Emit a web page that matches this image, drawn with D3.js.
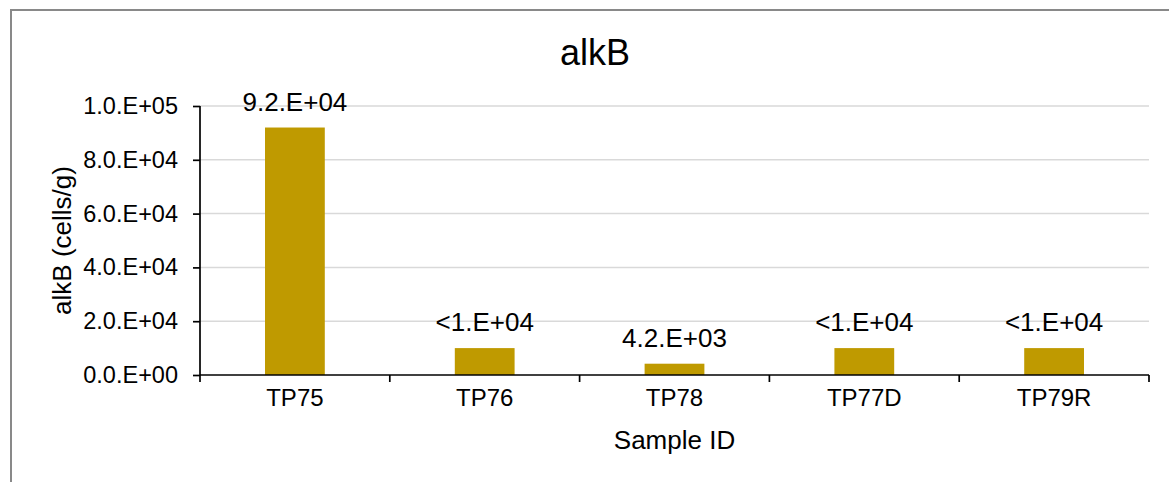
<!DOCTYPE html>
<html>
<head>
<meta charset="utf-8">
<script src="https://cdn.jsdelivr.net/npm/d3@7"></script>
<style>
  html, body { margin: 0; padding: 0; background: #fff; }
  svg { display: block; font-family: "Liberation Sans", Arial, sans-serif; }
</style>
</head>
<body>
<svg id="chart" width="1169" height="482"></svg>
<script>
// Sample IDs and alkB abundance (cells/g)
const samples = ["TP75", "TP76", "TP78", "TP77D", "TP79R"];
const values = [92000, 10000, 4200, 10000, 10000];
const valueLabels = ["9.2.E+04", "<1.E+04", "4.2.E+03", "<1.E+04", "<1.E+04"];
const yTicks = [0, 20000, 40000, 60000, 80000, 100000];
const yTickLabels = ["0.0.E+00", "2.0.E+04", "4.0.E+04", "6.0.E+04", "8.0.E+04", "1.0.E+05"];

const svg = d3.select("#chart");
const W = 1169, H = 482;
const plot = { left: 200, right: 1149, top: 106, bottom: 375 };

// outer frame
svg.append("rect")
  .attr("x", 11).attr("y", 10)
  .attr("width", W).attr("height", H)
  .attr("fill", "#fff")
  .attr("stroke", "#898989")
  .attr("stroke-width", 2);

const x = d3.scaleBand().domain(samples).range([plot.left, plot.right]).padding(0);
const y = d3.scaleLinear().domain([0, 100000]).range([plot.bottom, plot.top]);

// horizontal gridlines
svg.append("g")
  .selectAll("line")
  .data(yTicks.filter(d => d > 0))
  .join("line")
  .attr("x1", plot.left).attr("x2", plot.right)
  .attr("y1", d => y(d)).attr("y2", d => y(d))
  .attr("stroke", "#d9d9d9")
  .attr("stroke-width", 1.5);

// bars
const barW = x.bandwidth() * 0.315;
svg.append("g")
  .selectAll("rect")
  .data(samples)
  .join("rect")
  .attr("x", (d) => x(d) + (x.bandwidth() - barW) / 2)
  .attr("width", barW)
  .attr("y", (d, i) => y(values[i]))
  .attr("height", (d, i) => y(0) - y(values[i]))
  .attr("fill", "#BF9A00");

// value labels
svg.append("g")
  .selectAll("text")
  .data(samples)
  .join("text")
  .attr("x", d => x(d) + x.bandwidth() / 2)
  .attr("y", (d, i) => y(values[i]) - 17)
  .attr("text-anchor", "middle")
  .attr("font-size", 26)
  .attr("fill", "#000")
  .text((d, i) => valueLabels[i]);

// y axis
const yAxis = svg.append("g")
  .attr("transform", `translate(${plot.left},0)`)
  .call(d3.axisLeft(y)
    .tickValues(yTicks)
    .tickFormat((d, i) => yTickLabels[i])
    .tickSize(7)
    .tickSizeOuter(0)
    .tickPadding(15));
yAxis.select(".domain").attr("stroke", "#000").attr("stroke-width", 1.7)
  .attr("d", `M0,${plot.top}V${plot.bottom}`);
yAxis.selectAll(".tick line").attr("stroke", "#000").attr("stroke-width", 1.7);
yAxis.selectAll(".tick text").attr("font-size", 23.5).attr("fill", "#000")
  .attr("font-family", "'Liberation Sans', Arial, sans-serif");

// x axis: category labels
const xAxis = svg.append("g")
  .attr("transform", `translate(0,${plot.bottom})`)
  .call(d3.axisBottom(x).tickSize(0).tickPadding(14));
xAxis.select(".domain").attr("stroke", "#000").attr("stroke-width", 1.7)
  .attr("d", `M${plot.left},0H${plot.right}`);
xAxis.selectAll(".tick text").attr("font-size", 24).attr("fill", "#000")
  .attr("font-family", "'Liberation Sans', Arial, sans-serif");

// tick marks on category boundaries
const bounds = samples.map(d => x(d)).concat([x.range()[1]]);
svg.append("g")
  .selectAll("line")
  .data(bounds)
  .join("line")
  .attr("x1", d => d).attr("x2", d => d)
  .attr("y1", plot.bottom).attr("y2", plot.bottom + 7)
  .attr("stroke", "#000").attr("stroke-width", 1.7);

// title
svg.append("text")
  .attr("x", 595).attr("y", 65)
  .attr("text-anchor", "middle")
  .attr("font-size", 36)
  .attr("fill", "#000")
  .text("alkB");

// axis titles
svg.append("text")
  .attr("x", (plot.left + plot.right) / 2).attr("y", 449)
  .attr("text-anchor", "middle")
  .attr("font-size", 26)
  .attr("fill", "#000")
  .text("Sample ID");

svg.append("text")
  .attr("transform", `translate(71,${(plot.top + plot.bottom) / 2}) rotate(-90)`)
  .attr("text-anchor", "middle")
  .attr("font-size", 26)
  .attr("fill", "#000")
  .text("alkB (cells/g)");
</script>
</body>
</html>
